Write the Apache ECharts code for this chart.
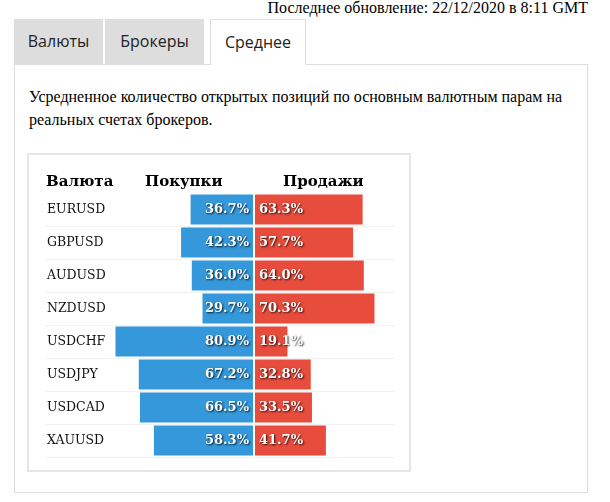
<!DOCTYPE html>
<html>
<head>
<meta charset="utf-8">
<script src="https://cdn.jsdelivr.net/npm/echarts@6/dist/echarts.min.js"></script>
<style>
    body { margin: 0; background: #fff; }
    .upd { position: absolute; top: -1px; right: 22px; font: 16px "Liberation Serif", serif; color: #000; white-space: nowrap; }
    .tab { position: absolute; top: 19px; height: 45px; font: 16px "Open Sans", sans-serif; line-height: 45px; text-align: center; color: #222; box-sizing: border-box; }
    .tab.grey { background: #dddddd; }
    .tab.active { background: #fff; border: 1px solid #dddddd; border-bottom: none; height: 46px; line-height: 44px; z-index: 2; }
    .panel { position: absolute; left: 14px; top: 64px; width: 574px; height: 429px; border: 1px solid #dddddd; box-sizing: border-box; }
    .descr { position: absolute; left: 29px; top: 85px; width: 550px; font: 16px/23px "Liberation Serif", serif; color: #000; }
    .box { position: absolute; left: 27px; top: 153px; width: 384px; height: 319px; border: 2px solid #e6e6e6; box-sizing: border-box; }
    #chart { position: absolute; left: 0; top: 0; width: 610px; height: 502px; }
</style>
</head>
<body>
<div class="upd">Последнее обновление: 22/12/2020 в 8:11 GMT</div>
<div class="panel"></div>
<div class="tab grey" style="left:14px;width:89px;">Валюты</div>
<div class="tab grey" style="left:105px;width:99px;">Брокеры</div>
<div class="tab active" style="left:210px;width:96px;">Среднее</div>
<div class="descr">Усредненное количество открытых позиций по основным валютным парам на реальных счетах брокеров.</div>
<div class="box"></div>
<div id="chart"></div>
<script>
var pairs = ['EURUSD', 'GBPUSD', 'AUDUSD', 'NZDUSD', 'USDCHF', 'USDJPY', 'USDCAD', 'XAUUSD'];
var buys = [36.7, 42.3, 36.0, 29.7, 80.9, 67.2, 66.5, 58.3];
var sells = [63.3, 57.7, 64.0, 70.3, 19.1, 32.8, 33.5, 41.7];

var pxPerPct = 1.7;

var chart = echarts.init(document.getElementById('chart'));

function pct(p) {
    return p.value.toFixed(1) + '%';
}

// линии между строками, без верхней
function rowLines(i) {
    return i > 0;
}

var labelStyle = {
    show: true,
    color: '#fff',
    fontFamily: 'DejaVu Serif',
    fontWeight: 'bold',
    fontSize: 13,
    distance: 4,
    textShadowColor: 'rgba(0,0,0,0.85)',
    textShadowBlur: 2,
    textShadowOffsetX: 1,
    textShadowOffsetY: 1,
    formatter: pct
};

var headFont = 'bold 15px "DejaVu Serif"';

var option = {
    animation: false,
    grid: [
        {left: 45, top: 193, width: 208, height: 264},
        {left: 255, top: 193, width: 140, height: 264}
    ],
    xAxis: [
        {type: 'value', gridIndex: 0, inverse: true, min: 0, max: 208 / pxPerPct, show: false},
        {type: 'value', gridIndex: 1, min: 0, max: 140 / pxPerPct, show: false}
    ],
    yAxis: [
        {
            type: 'category', gridIndex: 0, inverse: true, data: pairs,
            axisLine: {show: false}, axisTick: {show: false},
            axisLabel: {align: 'left', margin: -2, color: '#111', fontFamily: 'DejaVu Serif', fontSize: 12.5},
            splitLine: {show: true, interval: rowLines, lineStyle: {color: '#f2f2f2'}}
        },
        {
            type: 'category', gridIndex: 1, inverse: true, data: pairs,
            axisLine: {show: false}, axisTick: {show: false}, axisLabel: {show: false},
            splitLine: {show: true, interval: rowLines, lineStyle: {color: '#f2f2f2'}}
        }
    ],
    graphic: [
        {type: 'text', left: 46, top: 175, style: {text: 'Валюта', font: headFont, fill: '#000'}},
        {type: 'text', left: 145, top: 175, style: {text: 'Покупки', font: headFont, fill: '#000'}},
        {type: 'text', left: 283, top: 175, style: {text: 'Продажи', font: headFont, fill: '#000'}}
    ],
    series: [
        {
            name: 'Покупки',
            type: 'bar',
            xAxisIndex: 0,
            yAxisIndex: 0,
            barWidth: 30,
            data: buys,
            itemStyle: {color: '#3498db'},
            label: Object.assign({position: 'insideRight'}, labelStyle)
        },
        {
            name: 'Продажи',
            type: 'bar',
            xAxisIndex: 1,
            yAxisIndex: 1,
            barWidth: 30,
            data: sells,
            itemStyle: {color: '#e74c3c'},
            label: Object.assign({position: 'insideLeft'}, labelStyle)
        }
    ]
};

chart.setOption(option);
</script>
</body>
</html>
